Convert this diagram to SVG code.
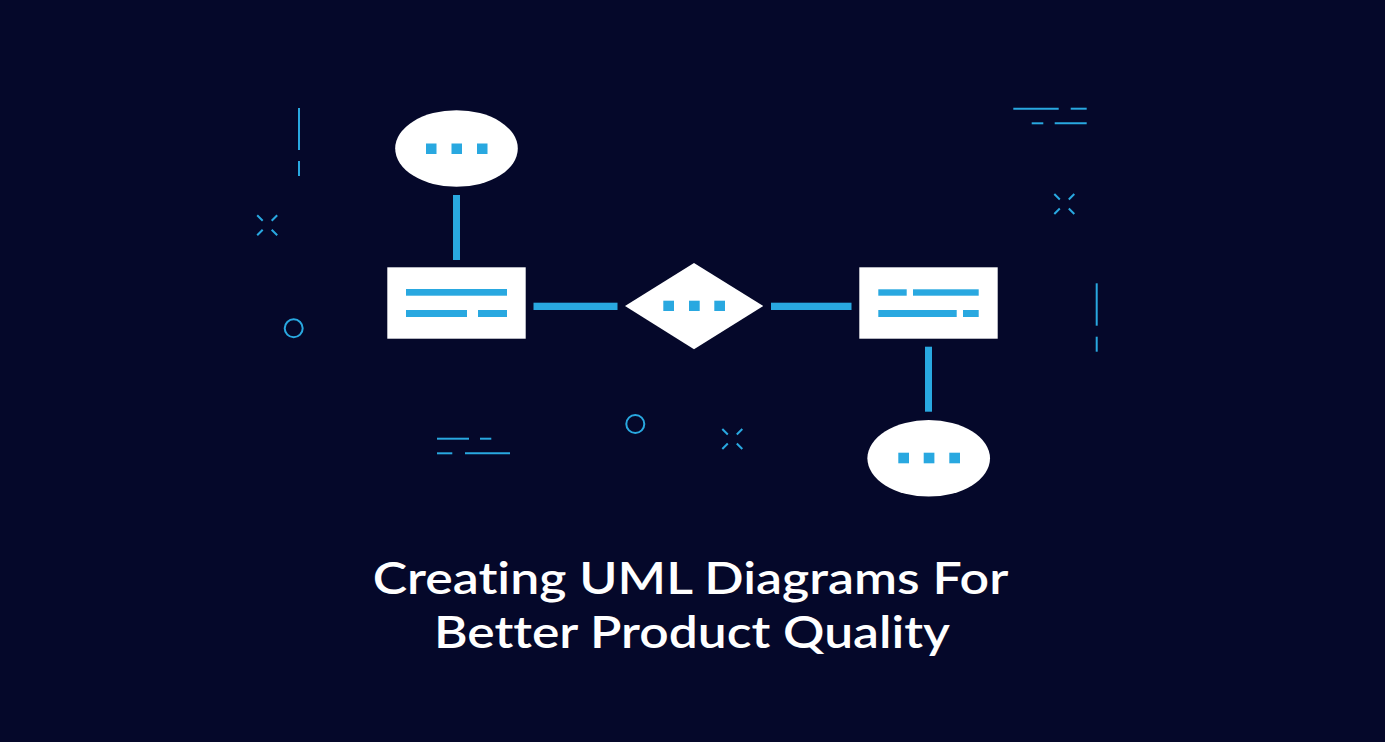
<svg xmlns="http://www.w3.org/2000/svg" width="1385" height="742" viewBox="0 0 1385 742">
  <defs>
    <style>
      .bg { fill: #05082a; }
      .shape { fill: #ffffff; }
      .blue { fill: #29a8e0; }
      .deco { stroke: #29a8e0; stroke-width: 2; fill: none; stroke-linecap: butt; }
      .title { fill: #ffffff; font-family: Lato, "Open Sans", "Liberation Sans", sans-serif; font-weight: 600; font-size: 44px; text-anchor: middle; font-variant-ligatures: none; font-feature-settings: "liga" 0, "clig" 0, "dlig" 0; }
    </style>
  </defs>
  <rect class="bg" x="0" y="0" width="1385" height="742"/>

  <g id="decorations">
    <line class="deco" x1="299" y1="108" x2="299" y2="150"/>
    <line class="deco" x1="299" y1="161" x2="299" y2="176"/>
    <g transform="translate(267.2,225.3)">
      <path class="deco" d="M-10,-10 L-4.5,-4.5 M10,-10 L4.5,-4.5 M-10,10 L-4.5,4.5 M10,10 L4.5,4.5"/>
    </g>
    <circle class="deco" cx="293.7" cy="328.3" r="9"/>
    <line class="deco" x1="437" y1="438.7" x2="469" y2="438.7"/>
    <line class="deco" x1="480" y1="438.7" x2="491.3" y2="438.7"/>
    <line class="deco" x1="437" y1="453.3" x2="452.3" y2="453.3"/>
    <line class="deco" x1="465" y1="453.3" x2="510" y2="453.3"/>
    <circle class="deco" cx="635.3" cy="424" r="9"/>
    <g transform="translate(732.3,439)">
      <path class="deco" d="M-10,-10 L-4.5,-4.5 M10,-10 L4.5,-4.5 M-10,10 L-4.5,4.5 M10,10 L4.5,4.5"/>
    </g>
    <line class="deco" x1="1013.3" y1="108.7" x2="1058.7" y2="108.7"/>
    <line class="deco" x1="1070.7" y1="108.7" x2="1086.7" y2="108.7"/>
    <line class="deco" x1="1031.7" y1="123.3" x2="1043.3" y2="123.3"/>
    <line class="deco" x1="1054.7" y1="123.3" x2="1086.7" y2="123.3"/>
    <g transform="translate(1064.3,204)">
      <path class="deco" d="M-10,-10 L-4.5,-4.5 M10,-10 L4.5,-4.5 M-10,10 L-4.5,4.5 M10,10 L4.5,4.5"/>
    </g>
    <line class="deco" x1="1096.7" y1="283.3" x2="1096.7" y2="325.7"/>
    <line class="deco" x1="1096.7" y1="336.7" x2="1096.7" y2="351.7"/>
  </g>

  <g id="connectors">
    <rect class="blue" x="453" y="195" width="7" height="65"/>
    <rect class="blue" x="533.5" y="302.7" width="84" height="7.3"/>
    <rect class="blue" x="771" y="302.7" width="80.5" height="7.3"/>
    <rect class="blue" x="925" y="346.7" width="7" height="65"/>
  </g>

  <g id="node-ellipse-top">
    <ellipse class="shape" cx="456.5" cy="148.5" rx="61.3" ry="38.3"/>
    <rect class="blue" x="426" y="143.5" width="10.5" height="10.5"/>
    <rect class="blue" x="451.5" y="143.5" width="10.5" height="10.5"/>
    <rect class="blue" x="477" y="143.5" width="10.5" height="10.5"/>
  </g>

  <g id="node-entity-left">
    <rect class="shape" x="387.3" y="267.3" width="138.4" height="71.4"/>
    <rect class="blue" x="406" y="289" width="101" height="6.7"/>
    <rect class="blue" x="406" y="310" width="61" height="7"/>
    <rect class="blue" x="478" y="310" width="29" height="7"/>
  </g>

  <g id="node-diamond">
    <polygon class="shape" points="625,306 694,263 763.3,306 694,349.3"/>
    <rect class="blue" x="663.3" y="300.7" width="10.7" height="10.3"/>
    <rect class="blue" x="689" y="300.7" width="10.7" height="10.3"/>
    <rect class="blue" x="714.3" y="300.7" width="10.7" height="10.3"/>
  </g>

  <g id="node-entity-right">
    <rect class="shape" x="859.3" y="267.3" width="138.4" height="71.4"/>
    <rect class="blue" x="878.3" y="289.3" width="28.4" height="6.4"/>
    <rect class="blue" x="913" y="289.3" width="65.7" height="6.4"/>
    <rect class="blue" x="878.3" y="310" width="78.4" height="7"/>
    <rect class="blue" x="963" y="310" width="15.7" height="7"/>
  </g>

  <g id="node-ellipse-bottom">
    <ellipse class="shape" cx="928.7" cy="458.3" rx="61.3" ry="38.3"/>
    <rect class="blue" x="898.3" y="452.7" width="10.7" height="10.6"/>
    <rect class="blue" x="923.7" y="452.7" width="10.7" height="10.6"/>
    <rect class="blue" x="949.3" y="452.7" width="10.7" height="10.6"/>
  </g>

  <g id="title">
    <text class="title" x="690.5" y="594" textLength="635.6" lengthAdjust="spacingAndGlyphs">Creating UML Diagrams For</text>
    <text class="title" x="692" y="648" textLength="516" lengthAdjust="spacingAndGlyphs">Better Product Quality</text>
  </g>
</svg>
